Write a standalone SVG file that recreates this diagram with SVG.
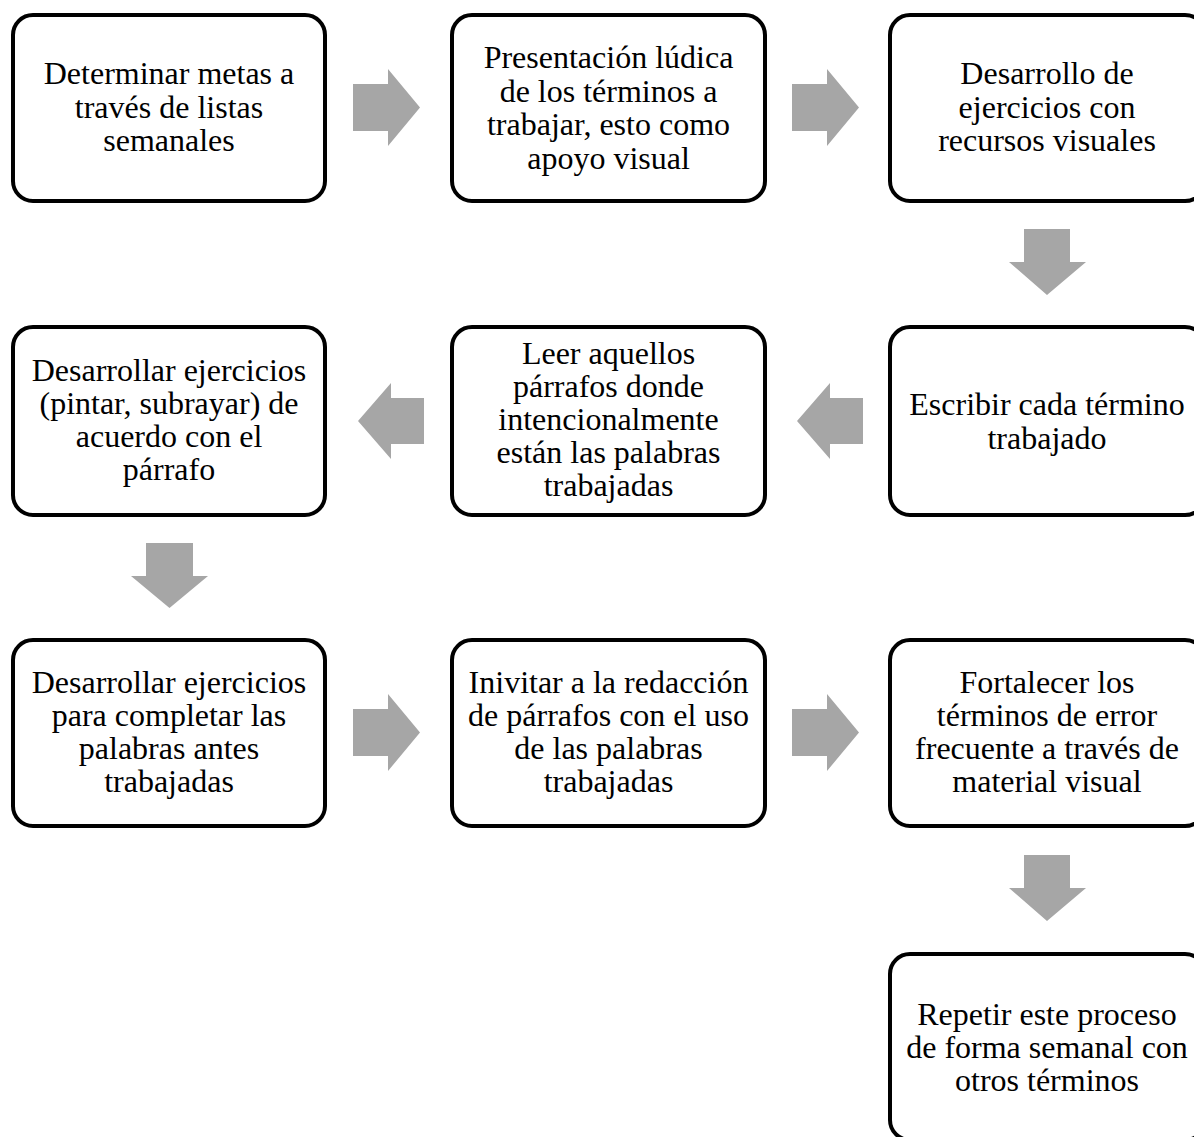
<svg xmlns="http://www.w3.org/2000/svg" width="1194" height="1137" viewBox="0 0 1194 1137">
<style>
.box{fill:#fff;stroke:#000;stroke-width:4}
.t{font-family:"Liberation Serif","Times New Roman",serif;font-size:32px;fill:#000;text-anchor:middle}
.arr{fill:#A6A6A6;stroke:none}
</style>
<rect width="1194" height="1137" fill="#fff"/>
<g id="connectors">
<polygon class="arr" points="353,84 388,84 388,69 420,107.5 388,146 388,131 353,131"/>
<polygon class="arr" points="792,84 827,84 827,69 859,107.5 827,146 827,131 792,131"/>
<polygon class="arr" points="1024,229 1070,229 1070,262 1086,262 1047,295 1009,262 1024,262"/>
<polygon class="arr" points="863,398 830,398 830,383 797,421 830,459 830,444 863,444"/>
<polygon class="arr" points="424,398 391,398 391,383 358,421 391,459 391,444 424,444"/>
<polygon class="arr" points="146,543 193,543 193,576 208,576 169.5,608 131,576 146,576"/>
<polygon class="arr" points="353,709 388,709 388,694 420,732.5 388,771 388,756 353,756"/>
<polygon class="arr" points="792,709 827,709 827,694 859,732.5 827,771 827,756 792,756"/>
<polygon class="arr" points="1024,855 1070,855 1070,888 1086,888 1047,921 1009,888 1024,888"/>
</g>
<g id="n1">
<rect class="box" x="13" y="15" width="312" height="186" rx="20"/>
<text class="t"><tspan x="169" y="84">Determinar metas a</tspan><tspan x="169" y="117.5">través de listas</tspan><tspan x="169" y="151">semanales</tspan></text>
</g>
<g id="n2">
<rect class="box" x="452" y="15" width="313" height="186" rx="20"/>
<text class="t"><tspan x="608.5" y="68">Presentación lúdica</tspan><tspan x="608.5" y="101.5">de los términos a</tspan><tspan x="608.5" y="135">trabajar, esto como</tspan><tspan x="608.5" y="168.5">apoyo visual</tspan></text>
</g>
<g id="n3">
<rect class="box" x="890" y="15" width="315" height="186" rx="20"/>
<text class="t"><tspan x="1047" y="84">Desarrollo de</tspan><tspan x="1047" y="117.5">ejercicios con</tspan><tspan x="1047" y="151">recursos visuales</tspan></text>
</g>
<g id="n4">
<rect class="box" x="890" y="327" width="315" height="188" rx="20"/>
<text class="t"><tspan x="1047" y="415">Escribir cada término</tspan><tspan x="1047" y="448.5">trabajado</tspan></text>
</g>
<g id="n5">
<rect class="box" x="452" y="327" width="313" height="188" rx="20"/>
<text class="t"><tspan x="608.5" y="364">Leer aquellos</tspan><tspan x="608.5" y="397">párrafos donde</tspan><tspan x="608.5" y="430">intencionalmente</tspan><tspan x="608.5" y="463">están las palabras</tspan><tspan x="608.5" y="496">trabajadas</tspan></text>
</g>
<g id="n6">
<rect class="box" x="13" y="327" width="312" height="188" rx="20"/>
<text class="t"><tspan x="169" y="381">Desarrollar ejercicios</tspan><tspan x="169" y="414">(pintar, subrayar) de</tspan><tspan x="169" y="447">acuerdo con el</tspan><tspan x="169" y="480">párrafo</tspan></text>
</g>
<g id="n7">
<rect class="box" x="13" y="640" width="312" height="186" rx="20"/>
<text class="t"><tspan x="169" y="693">Desarrollar ejercicios</tspan><tspan x="169" y="726">para completar las</tspan><tspan x="169" y="759">palabras antes</tspan><tspan x="169" y="792">trabajadas</tspan></text>
</g>
<g id="n8">
<rect class="box" x="452" y="640" width="313" height="186" rx="20"/>
<text class="t"><tspan x="608.5" y="693">Inivitar a la redacción</tspan><tspan x="608.5" y="726">de párrafos con el uso</tspan><tspan x="608.5" y="759">de las palabras</tspan><tspan x="608.5" y="792">trabajadas</tspan></text>
</g>
<g id="n9">
<rect class="box" x="890" y="640" width="315" height="186" rx="20"/>
<text class="t"><tspan x="1047" y="693">Fortalecer los</tspan><tspan x="1047" y="726">términos de error</tspan><tspan x="1047" y="759">frecuente a través de</tspan><tspan x="1047" y="792">material visual</tspan></text>
</g>
<g id="n10">
<rect class="box" x="890" y="954" width="315" height="186" rx="20"/>
<text class="t"><tspan x="1047" y="1025">Repetir este proceso</tspan><tspan x="1047" y="1058">de forma semanal con</tspan><tspan x="1047" y="1091">otros términos</tspan></text>
</g>
</svg>
